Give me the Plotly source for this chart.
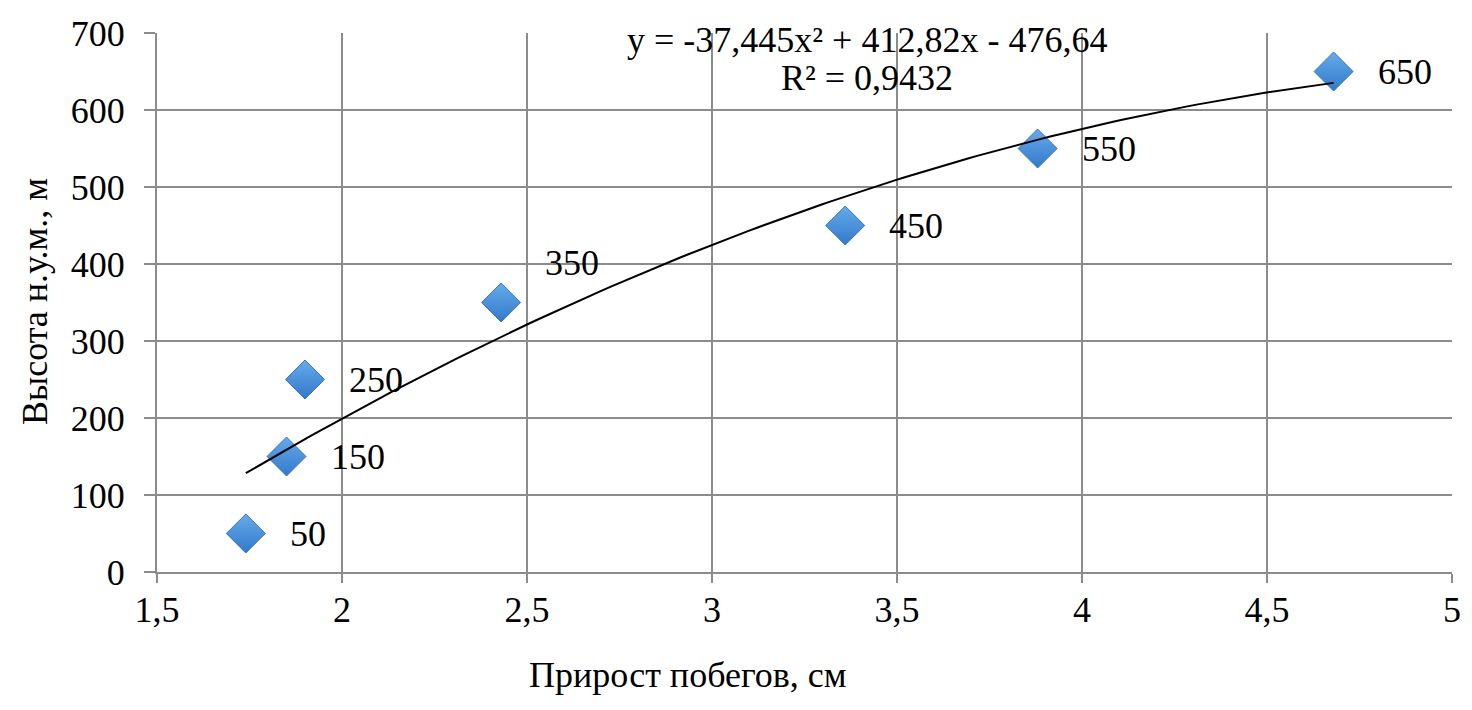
import numpy as np
import plotly.graph_objects as go

# Data
growth_cm = [1.74, 1.85, 1.90, 2.43, 3.36, 3.88, 4.68]
altitude_m = [50, 150, 250, 350, 450, 550, 650]
label_texts = ["50", "150", "250", "350", "450", "550", "650"]
label_yshift = [0, 0, 0, 40, 0, 0, 0]

# Polynomial trendline coefficients (as printed on chart)
coef_a, coef_b, coef_c = -37.445, 412.82, -476.64
eq_line1 = "y = -37,445x² + 412,82x - 476,64"
eq_line2 = "R² = 0,9432"

x_title = "Прирост побегов, см"
y_title = "Высота н.у.м., м"

FONT = "Liberation Serif"
FS = 36

# page has 8px body margin -> figure is 8px smaller and offset
OFF = 8
PL, PT, PW, PH = 157 - OFF, 33 - OFF, 1295, 539

xt = np.linspace(min(growth_cm), max(growth_cm), 120)
yt = coef_a * xt**2 + coef_b * xt + coef_c

fig = go.Figure()

fig.add_trace(go.Scatter(
    x=growth_cm, y=altitude_m, mode="markers",
    marker=dict(symbol="diamond", size=30, color="#66abec",
                gradient=dict(type="vertical", color="#3279ca"),
                line=dict(color="#3b74b6", width=1)),
    showlegend=False,
))
fig.add_trace(go.Scatter(
    x=xt, y=yt, mode="lines", line=dict(color="black", width=2),
    showlegend=False, hoverinfo="skip",
))

for xv, yv, t, ys in zip(growth_cm, altitude_m, label_texts, label_yshift):
    fig.add_annotation(x=xv, y=yv, text=t, showarrow=False, xanchor="left",
                       yanchor="middle", xshift=42, yshift=ys,
                       font=dict(family=FONT, size=FS, color="black"))

def px_x(p):
    return (p - 157) / PW

def px_y(p):
    return (572 - p) / PH

# white box behind equation
fig.add_shape(type="rect", xref="paper", yref="paper", x0=px_x(614), x1=px_x(1121),
              y0=px_y(100), y1=px_y(20), fillcolor="white", line=dict(width=0), layer="between")
fig.add_annotation(xref="paper", yref="paper", x=px_x(867), y=px_y(40),
                   text=eq_line1, showarrow=False, xanchor="center", yanchor="middle",
                   font=dict(family=FONT, size=FS, color="black"))
fig.add_annotation(xref="paper", yref="paper", x=px_x(867), y=px_y(78),
                   text=eq_line2, showarrow=False, xanchor="center", yanchor="middle",
                   font=dict(family=FONT, size=FS, color="black"))

# axis titles
fig.add_annotation(xref="paper", yref="paper", x=px_x(688), y=px_y(675),
                   text=x_title, showarrow=False, xanchor="center", yanchor="middle",
                   font=dict(family=FONT, size=FS, color="black"))
fig.add_annotation(xref="paper", yref="paper", x=px_x(35), y=px_y(302),
                   text=y_title, showarrow=False, xanchor="center", yanchor="middle",
                   textangle=-90, font=dict(family=FONT, size=FS, color="black"))

axis_common = dict(
    showgrid=True, gridcolor="#8c8c8c", gridwidth=2,
    showline=True, linecolor="#8c8c8c", linewidth=2,
    ticks="outside", tickcolor="#8c8c8c", tickwidth=2,
    tickfont=dict(family=FONT, size=FS, color="black"),
    zeroline=False, automargin=False,
)

fig.update_layout(
    width=1472 - OFF, height=710 - OFF,
    margin=dict(l=PL, r=20, t=PT, b=138),
    paper_bgcolor="white", plot_bgcolor="white",
    separators=", ",
    font=dict(family=FONT, size=FS, color="black"),
    xaxis=dict(range=[1.5, 5], dtick=0.5, tick0=1.5, ticklen=9, ticklabelstandoff=-4,
               **axis_common),
    yaxis=dict(range=[0, 700], dtick=100, ticklen=11, ticklabelstandoff=12,
               **axis_common),
)

fig.write_html("out.html")
